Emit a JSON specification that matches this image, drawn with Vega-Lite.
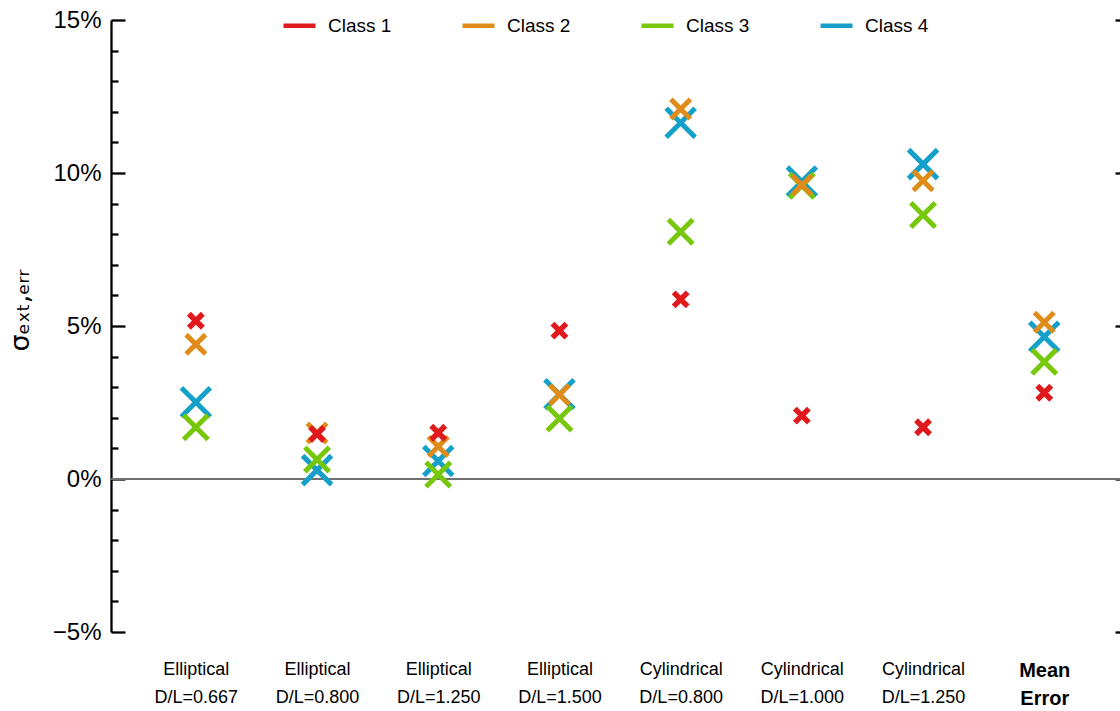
{
  "$schema": "https://vega.github.io/schema/vega-lite/v6.json",
  "width": 1009,
  "height": 612,
  "autosize": {"type": "none"},
  "padding": {"left": 111, "top": 20, "right": 0, "bottom": 79},
  "background": "white",
  "config": {"view": {"stroke": null}, "font": "Liberation Sans"},
  "datasets": {
    "errors": [
      {"cat": 1, "class": "Class 4", "value": 2.51},
      {"cat": 2, "class": "Class 4", "value": 0.29},
      {"cat": 3, "class": "Class 4", "value": 0.59},
      {"cat": 4, "class": "Class 4", "value": 2.77},
      {"cat": 5, "class": "Class 4", "value": 11.64},
      {"cat": 6, "class": "Class 4", "value": 9.72},
      {"cat": 7, "class": "Class 4", "value": 10.29},
      {"cat": 8, "class": "Class 4", "value": 4.65},
      {"cat": 1, "class": "Class 3", "value": 1.69},
      {"cat": 2, "class": "Class 3", "value": 0.64},
      {"cat": 3, "class": "Class 3", "value": 0.15},
      {"cat": 4, "class": "Class 3", "value": 1.98},
      {"cat": 5, "class": "Class 3", "value": 8.08},
      {"cat": 6, "class": "Class 3", "value": 9.58},
      {"cat": 7, "class": "Class 3", "value": 8.63},
      {"cat": 8, "class": "Class 3", "value": 3.83},
      {"cat": 1, "class": "Class 2", "value": 4.40},
      {"cat": 2, "class": "Class 2", "value": 1.50},
      {"cat": 3, "class": "Class 2", "value": 1.06},
      {"cat": 4, "class": "Class 2", "value": 2.75},
      {"cat": 5, "class": "Class 2", "value": 12.09},
      {"cat": 6, "class": "Class 2", "value": 9.61},
      {"cat": 7, "class": "Class 2", "value": 9.75},
      {"cat": 8, "class": "Class 2", "value": 5.12},
      {"cat": 1, "class": "Class 1", "value": 5.17},
      {"cat": 2, "class": "Class 1", "value": 1.47},
      {"cat": 3, "class": "Class 1", "value": 1.51},
      {"cat": 4, "class": "Class 1", "value": 4.85},
      {"cat": 5, "class": "Class 1", "value": 5.87},
      {"cat": 6, "class": "Class 1", "value": 2.07},
      {"cat": 7, "class": "Class 1", "value": 1.69},
      {"cat": 8, "class": "Class 1", "value": 2.82}
    ]
  },
  "layer": [
    {
      "data": {"values": [{"zero": 0}]},
      "mark": {"type": "rule", "color": "#707070", "strokeWidth": 2},
      "encoding": {
        "y": {
          "field": "zero",
          "type": "quantitative",
          "scale": {"domain": [-5, 15], "nice": false},
          "axis": {
            "orient": "right",
            "labels": false,
            "domain": false,
            "grid": false,
            "title": null,
            "values": [-5, 0, 5, 10, 15],
            "tickSize": -5,
            "tickWidth": 2.3,
            "tickColor": "black"
          }
        }
      }
    },
    {
      "data": {"name": "errors"},
      "transform": [{"filter": "datum['class'] == 'Class 4'"}],
      "mark": {"type": "point", "shape": "M-1,-1L1,1M-1,1L1,-1", "filled": false, "strokeWidth": 5, "opacity": 1, "size": 841},
      "encoding": {
        "x": {
          "field": "cat",
          "type": "quantitative",
          "scale": {"domain": [0.3, 8.625], "nice": false, "zero": false},
          "axis": {
            "orient": "bottom",
            "domain": false,
            "ticks": false,
            "grid": false,
            "title": null,
            "values": [1, 2, 3, 4, 5, 6, 7, 8],
            "labelExpr": "datum.value == 1 ? ['Elliptical','D/L=0.667'] : datum.value == 2 ? ['Elliptical','D/L=0.800'] : datum.value == 3 ? ['Elliptical','D/L=1.250'] : datum.value == 4 ? ['Elliptical','D/L=1.500'] : datum.value == 5 ? ['Cylindrical','D/L=0.800'] : datum.value == 6 ? ['Cylindrical','D/L=1.000'] : datum.value == 7 ? ['Cylindrical','D/L=1.250'] : ['Mean','Error']",
            "labelFontSize": {"condition": {"test": "datum.value == 8", "value": 20}, "value": 18},
            "labelFontWeight": {"condition": {"test": "datum.value == 8", "value": "bold"}, "value": "normal"},
            "labelColor": "black",
            "labelLineHeight": 28,
            "labelPadding": 28,
            "labelOverlap": false
          }
        },
        "y": {
          "field": "value",
          "type": "quantitative",
          "scale": {"domain": [-5, 15], "nice": false},
          "axis": {
            "orient": "left",
            "grid": false,
            "values": [-5, -4, -3, -2, -1, 0, 1, 2, 3, 4, 5, 6, 7, 8, 9, 10, 11, 12, 13, 14, 15],
            "labelExpr": "datum.value % 5 == 0 ? (datum.value < 0 ? '\u2212' + abs(datum.value) : datum.value) + '%' : ''",
            "tickSize": {"condition": {"test": "datum.value % 5 == 0", "value": -14}, "value": -7},
            "tickWidth": 2.3,
            "tickColor": "black",
            "domainColor": "black",
            "domainWidth": 2.3,
            "labelFontSize": 24,
            "labelColor": "black",
            "labelPadding": 24,
            "labelOverlap": false,
            "title": "σₑₓₜ,ₑᵣᵣ",
            "titleFont": "DejaVu Sans",
            "titleFontSize": 27,
            "titleFontWeight": "normal",
            "titleColor": "black",
            "titleX": -83,
            "titleY": 290,
            "titleBaseline": "alphabetic"
          }
        },
        "color": {
          "field": "class",
          "type": "nominal",
          "scale": {"domain": ["Class 1", "Class 2", "Class 3", "Class 4"], "range": ["#e0191c", "#e08c1a", "#77c80d", "#14a0c8"]},
          "legend": {
            "orient": "none",
            "legendX": 170,
            "legendY": -13,
            "direction": "horizontal",
            "columns": 4,
            "gridAlign": "all",
            "title": null,
            "symbolType": "stroke",
            "symbolSize": 1024,
            "symbolStrokeWidth": 4.5,
            "labelFontSize": 19,
            "labelColor": "black",
            "labelOffset": 10,
            "columnPadding": 61
          }
        }
      }
    },
    {
      "data": {"name": "errors"},
      "transform": [{"filter": "datum['class'] == 'Class 3'"}],
      "mark": {"type": "point", "shape": "M-1,-1L1,1M-1,1L1,-1", "filled": false, "strokeWidth": 5, "opacity": 1, "size": 600},
      "encoding": {
        "x": {"field": "cat", "type": "quantitative"},
        "y": {"field": "value", "type": "quantitative", "axis": null},
        "color": {"field": "class", "type": "nominal"}
      }
    },
    {
      "data": {"name": "errors"},
      "transform": [{"filter": "datum['class'] == 'Class 2'"}],
      "mark": {"type": "point", "shape": "M-1,-1L1,1M-1,1L1,-1", "filled": false, "strokeWidth": 5, "opacity": 1, "size": 380},
      "encoding": {
        "x": {"field": "cat", "type": "quantitative"},
        "y": {"field": "value", "type": "quantitative", "axis": null},
        "color": {"field": "class", "type": "nominal"}
      }
    },
    {
      "data": {"name": "errors"},
      "transform": [{"filter": "datum['class'] == 'Class 1'"}],
      "mark": {"type": "point", "shape": "M-1,-1L1,1M-1,1L1,-1", "filled": false, "strokeWidth": 5.5, "opacity": 1, "size": 196},
      "encoding": {
        "x": {"field": "cat", "type": "quantitative"},
        "y": {"field": "value", "type": "quantitative", "axis": null},
        "color": {"field": "class", "type": "nominal"}
      }
    }
  ],
  "resolve": {"axis": {"y": "independent"}}
}
